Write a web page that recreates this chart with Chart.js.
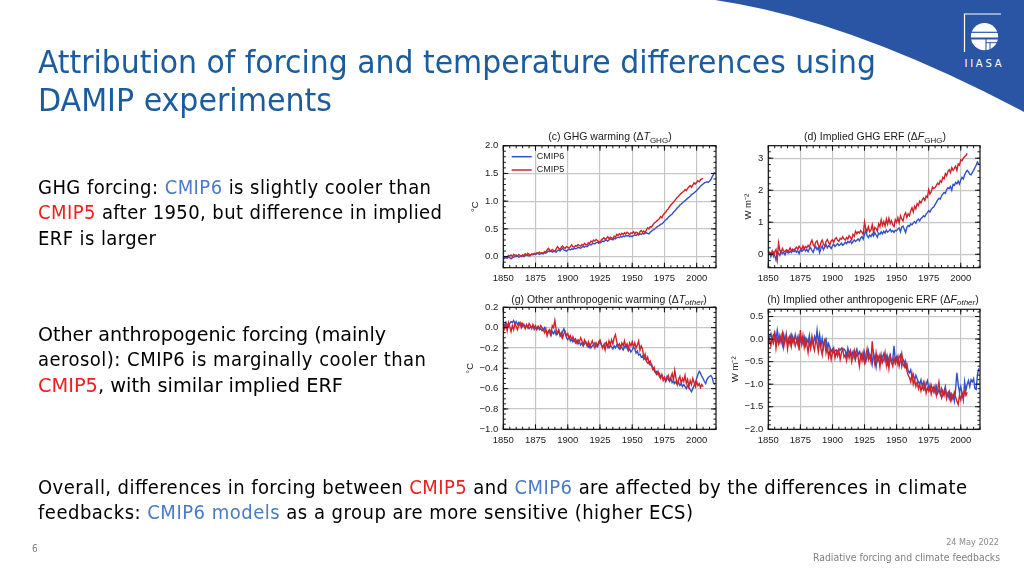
<!DOCTYPE html>
<html><head><meta charset="utf-8">
<script src="https://cdn.jsdelivr.net/npm/chart.js@4.4.1/dist/chart.umd.min.js"></script>
<style>
html,body{margin:0;padding:0;background:#fff;}
#slide{position:relative;width:1024px;height:576px;overflow:hidden;background:#fff;}
canvas{position:absolute;}
svg{position:absolute;left:0;top:0;}
.st{font-family:'DejaVu Sans Condensed','DejaVu Sans',sans-serif;font-stretch:condensed;}
</style></head><body>
<div id="slide">
<svg width="1024" height="576">
  <path d="M715,0 L1024,0 L1024,112 Q850,20 715,0 Z" fill="#2a55a5"/>
  <polyline points="1001,14 964.5,14 964.5,52" stroke="#fff" stroke-width="1.2" fill="none"/>
  <circle cx="984.5" cy="36.7" r="13.6" fill="#fff"/>
  <g stroke="#2a55a5" fill="none">
    <line x1="969" y1="32.3" x2="1000" y2="32.3" stroke-width="1.2"/>
    <line x1="969" y1="38.5" x2="1000" y2="38.5" stroke-width="2"/>
    <line x1="986" y1="38" x2="986" y2="52" stroke-width="1.1"/>
    <line x1="986" y1="42.7" x2="1000" y2="42.7" stroke-width="1"/>
    <line x1="990" y1="42.7" x2="990" y2="52" stroke-width="1"/>
  </g>
  <text x="964.5" y="66.7" fill="#fff" font-size="10" textLength="37" lengthAdjust="spacing" font-family="DejaVu Sans">IIASA</text>
</svg>
<canvas id="cC" width="260" height="158" style="left:461px;top:132px"></canvas>
<canvas id="cD" width="260" height="158" style="left:726px;top:132px"></canvas>
<canvas id="cG" width="260" height="158" style="left:461px;top:294px"></canvas>
<canvas id="cH" width="260" height="158" style="left:726px;top:294px"></canvas>
<svg width="1024" height="576" style="pointer-events:none">
  <g class="st">
    <text x="38" y="73.3" font-size="31.5" fill="#1a5c9e" textLength="838" lengthAdjust="spacingAndGlyphs">Attribution of forcing and temperature differences using</text>
    <text x="38" y="110.7" font-size="31.5" fill="#1a5c9e" textLength="294" lengthAdjust="spacingAndGlyphs">DAMIP experiments</text>
    <g font-size="20" fill="#000">
      <text x="38" y="194" textLength="393" lengthAdjust="spacing">GHG forcing: <tspan fill="#4a7bc8">CMIP6</tspan> is slightly cooler than</text>
      <text x="38" y="219.3" textLength="404" lengthAdjust="spacing"><tspan fill="#f01e1e">CMIP5</tspan> after 1950, but difference in implied</text>
      <text x="38" y="244.6" textLength="118" lengthAdjust="spacing">ERF is larger</text>
      <text x="38" y="341" textLength="348" lengthAdjust="spacingAndGlyphs">Other anthropogenic forcing (mainly</text>
      <text x="38" y="366.3" textLength="388" lengthAdjust="spacing">aerosol): CMIP6 is marginally cooler than</text>
      <text x="38" y="391.6" textLength="305" lengthAdjust="spacingAndGlyphs"><tspan fill="#f01e1e">CMIP5</tspan>, with similar implied ERF</text>
      <text x="38" y="493.5" textLength="929" lengthAdjust="spacing">Overall, differences in forcing between <tspan fill="#f01e1e">CMIP5</tspan> and <tspan fill="#4a7bc8">CMIP6</tspan> are affected by the differences in climate</text>
      <text x="38" y="518.8" textLength="655" lengthAdjust="spacing">feedbacks: <tspan fill="#4a7bc8">CMIP6 models</tspan> as a group are more sensitive (higher ECS)</text>
    </g>
    <text x="32" y="552" font-size="10" fill="#7f7f7f">6</text>
    <text x="999" y="545" font-size="9" fill="#8a8a8a" text-anchor="end">24 May 2022</text>
    <text x="1000" y="561" font-size="10.5" fill="#7f7f7f" text-anchor="end" textLength="187" lengthAdjust="spacingAndGlyphs">Radiative forcing and climate feedbacks</text>
  </g>
  <g font-family="'Liberation Sans',Arial,sans-serif" font-size="10.5" fill="#1a1a1a" text-anchor="middle">
    <text x="610" y="140">(c) GHG warming (Δ<tspan font-style="italic">T</tspan><tspan font-size="8" dy="2.5">GHG</tspan><tspan dy="-2.5">)</tspan></text>
    <text x="875" y="140">(d) Implied GHG ERF (Δ<tspan font-style="italic">F</tspan><tspan font-size="8" dy="2.5">GHG</tspan><tspan dy="-2.5">)</tspan></text>
    <text x="609" y="302.7">(g) Other anthropogenic warming (Δ<tspan font-style="italic">T</tspan><tspan font-size="8" dy="2.5" font-style="italic">other</tspan><tspan dy="-2.5">)</tspan></text>
    <text x="873" y="302.7">(h) Implied other anthropogenic ERF (Δ<tspan font-style="italic">F</tspan><tspan font-size="8" dy="2.5" font-style="italic">other</tspan><tspan dy="-2.5">)</tspan></text>
  </g>
</svg>
</div>
<script>
// ---------------- DATA ----------------
const START_YEAR = 1850;
const seriesNames = ['CMIP6', 'CMIP5'];
const xTicks = [1850, 1875, 1900, 1925, 1950, 1975, 2000];
const yTicksC = [0, 0.5, 1.0, 1.5, 2.0];
const yTicksD = [0, 1, 2, 3];
const yTicksG = [-1.0, -0.8, -0.6, -0.4, -0.2, 0.0, 0.2];
const yTicksH = [-2.0, -1.5, -1.0, -0.5, 0.0, 0.5];

// (c) GHG warming, degC
const ghgT_cmip6 = [
-0.04,-0.03,-0.02,-0.03,-0.01,-0.02,-0.04,-0.02,-0.01,0.00,
0.00,0.01,-0.01,0.00,0.02,0.01,0.00,0.02,0.03,0.02,
0.01,0.03,0.04,0.03,0.05,0.04,0.05,0.06,0.04,0.05,
0.06,0.05,0.07,0.06,0.08,0.10,0.09,0.11,0.08,0.09,
0.10,0.08,0.11,0.12,0.10,0.13,0.15,0.12,0.11,0.10,
0.12,0.13,0.12,0.14,0.13,0.15,0.14,0.15,0.17,0.16,
0.15,0.17,0.18,0.17,0.19,0.18,0.20,0.22,0.21,0.23,
0.24,0.23,0.25,0.26,0.24,0.27,0.26,0.28,0.27,0.29,
0.30,0.28,0.30,0.32,0.31,0.30,0.33,0.32,0.34,0.35,
0.34,0.36,0.35,0.37,0.36,0.38,0.37,0.38,0.36,0.37,
0.36,0.38,0.39,0.38,0.40,0.39,0.41,0.40,0.42,0.41,
0.42,0.43,0.42,0.41,0.44,0.46,0.48,0.49,0.51,0.53,
0.55,0.56,0.58,0.59,0.61,0.64,0.66,0.68,0.71,0.73,
0.75,0.77,0.80,0.82,0.85,0.88,0.90,0.93,0.95,0.97,
0.99,1.01,1.03,1.05,1.07,1.09,1.12,1.13,1.15,1.17,
1.19,1.22,1.24,1.27,1.29,1.31,1.33,1.34,1.35,1.34,
1.36,1.39,1.44,1.48,1.52];
const ghgT_cmip5 = [
-0.03,-0.01,0.00,-0.02,0.02,0.01,0.03,0.00,0.04,0.02,
0.03,0.01,0.04,0.02,0.00,0.03,0.02,0.05,0.03,0.06,
0.04,0.02,0.05,0.04,0.06,0.05,0.07,0.06,0.08,0.06,
0.07,0.06,0.09,0.08,0.12,0.15,0.12,0.10,0.13,0.11,
0.09,0.14,0.18,0.15,0.13,0.17,0.19,0.16,0.15,0.18,
0.17,0.15,0.18,0.21,0.18,0.17,0.20,0.19,0.22,0.20,
0.19,0.22,0.20,0.24,0.22,0.21,0.25,0.24,0.28,0.26,
0.30,0.28,0.31,0.29,0.27,0.25,0.30,0.32,0.34,0.31,
0.33,0.36,0.32,0.35,0.34,0.32,0.37,0.35,0.40,0.38,
0.41,0.39,0.42,0.40,0.43,0.41,0.44,0.42,0.40,0.43,
0.42,0.45,0.41,0.44,0.43,0.40,0.45,0.47,0.44,0.46,
0.43,0.48,0.52,0.50,0.54,0.53,0.57,0.60,0.62,0.64,
0.66,0.68,0.72,0.70,0.75,0.78,0.80,0.84,0.86,0.90,
0.93,0.96,0.98,1.01,1.04,1.07,1.09,1.12,1.14,1.16,
1.18,1.21,1.19,1.23,1.26,1.28,1.25,1.29,1.33,1.31,
1.34,1.37,1.35,1.39,1.40,1.41];

// (d) implied GHG ERF, W m-2
const ghgF_cmip6 = [
-0.02,0.05,-0.08,0.02,0.06,-0.05,-0.18,0.08,0.03,-0.04,
0.10,0.02,0.06,-0.02,0.08,0.12,0.04,0.09,0.05,0.11,
0.08,0.13,0.06,0.10,0.02,0.14,0.09,0.12,0.18,0.10,
0.15,0.08,0.17,0.20,0.12,0.06,0.18,0.24,0.15,0.21,
0.05,0.18,0.26,0.14,0.22,0.30,0.20,0.27,0.24,0.18,
0.26,0.31,0.24,0.29,0.33,0.27,0.30,0.35,0.28,0.32,
0.38,0.33,0.40,0.36,0.42,0.34,0.39,0.45,0.40,0.44,
0.48,0.42,0.50,0.55,0.47,0.62,0.75,0.58,0.52,0.60,
0.55,0.64,0.57,0.68,0.60,0.53,0.66,0.62,0.70,0.64,
0.72,0.66,0.75,0.69,0.73,0.78,0.70,0.74,0.68,0.75,
0.73,0.79,0.82,0.70,0.85,0.88,0.78,0.68,0.84,0.90,
0.87,0.95,0.92,0.98,1.02,0.97,1.06,1.10,1.04,1.12,
1.15,1.20,1.17,1.26,1.30,1.36,1.32,1.40,1.45,1.48,
1.55,1.62,1.70,1.75,1.72,1.82,1.88,1.93,1.90,2.02,
2.08,2.05,2.12,2.00,2.18,2.15,2.24,2.20,2.28,2.19,
2.32,2.40,2.35,2.48,2.56,2.62,2.58,2.50,2.48,2.55,
2.62,2.70,2.78,2.88,2.82];
const ghgF_cmip5 = [
0.02,0.06,0.00,0.10,-0.05,0.08,0.15,-0.15,0.35,0.12,
0.05,0.18,0.10,0.08,0.14,0.06,0.12,0.20,0.10,0.16,
0.12,0.18,0.22,0.15,0.25,0.20,0.14,0.26,0.18,0.24,
0.20,0.28,0.22,0.35,0.44,0.30,0.24,0.38,0.42,0.28,
0.20,0.36,0.44,0.32,0.25,0.40,0.46,0.36,0.30,0.42,
0.45,0.38,0.48,0.52,0.44,0.40,0.50,0.47,0.55,0.48,
0.44,0.52,0.47,0.58,0.53,0.46,0.62,0.56,0.72,0.64,
0.70,0.66,0.74,0.68,0.62,1.00,0.80,0.72,0.86,0.70,
0.76,0.92,0.68,0.84,0.80,0.72,0.95,0.86,1.08,0.90,
1.02,0.88,1.10,0.94,1.12,0.96,1.05,0.92,0.86,1.08,
1.00,1.14,0.98,1.20,1.10,1.04,1.22,1.30,1.15,1.26,
1.20,1.36,1.45,1.32,1.50,1.42,1.58,1.52,1.66,1.60,
1.70,1.76,1.68,1.82,1.78,2.02,1.88,1.95,2.10,2.05,
2.08,2.15,2.22,2.18,2.30,2.25,2.40,2.35,2.52,2.45,
2.58,2.64,2.55,2.70,2.62,2.68,2.75,2.62,2.82,2.78,
2.95,2.92,3.00,3.05,3.08,3.15];

// (g) other anthropogenic warming, degC
const othT_cmip6 = [
0.04,0.02,0.05,0.03,0.01,0.04,0.06,0.05,0.07,0.04,
0.06,0.03,0.05,0.02,0.04,0.01,0.03,0.00,0.02,0.01,
-0.01,0.01,0.00,0.02,-0.02,0.00,-0.01,0.01,-0.02,-0.01,
-0.03,-0.02,0.00,-0.04,-0.06,-0.03,-0.05,-0.08,-0.04,-0.06,
-0.03,-0.07,-0.05,-0.02,-0.06,-0.09,-0.04,-0.01,-0.05,-0.10,
-0.12,-0.09,-0.13,-0.11,-0.14,-0.12,-0.15,-0.13,-0.16,-0.14,
-0.17,-0.15,-0.18,-0.16,-0.14,-0.17,-0.19,-0.16,-0.20,-0.18,
-0.17,-0.15,-0.18,-0.19,-0.16,-0.14,-0.17,-0.19,-0.18,-0.15,
-0.16,-0.18,-0.20,-0.17,-0.19,-0.21,-0.18,-0.20,-0.17,-0.19,
-0.21,-0.18,-0.20,-0.22,-0.19,-0.17,-0.20,-0.23,-0.21,-0.24,
-0.22,-0.19,-0.21,-0.25,-0.23,-0.27,-0.26,-0.29,-0.28,-0.31,
-0.30,-0.33,-0.35,-0.34,-0.37,-0.36,-0.40,-0.42,-0.44,-0.43,
-0.46,-0.45,-0.48,-0.47,-0.50,-0.49,-0.52,-0.48,-0.51,-0.53,
-0.50,-0.54,-0.52,-0.55,-0.53,-0.56,-0.54,-0.57,-0.55,-0.58,
-0.56,-0.58,-0.60,-0.57,-0.59,-0.61,-0.63,-0.60,-0.57,-0.54,
-0.50,-0.46,-0.43,-0.45,-0.48,-0.50,-0.53,-0.55,-0.51,-0.49,
-0.48,-0.47,-0.49,-0.54,-0.56];
const othT_cmip5 = [
0.03,-0.01,0.04,-0.03,0.05,0.01,-0.04,0.02,-0.02,0.04,
0.01,-0.02,0.03,0.05,0.00,0.04,0.02,-0.01,0.03,0.00,
0.04,0.02,-0.01,0.03,0.00,0.02,-0.02,0.01,-0.01,0.02,
0.00,-0.02,-0.05,-0.01,-0.08,-0.04,-0.02,-0.06,0.02,0.00,
0.07,-0.02,-0.06,-0.03,-0.08,-0.05,-0.10,-0.06,-0.04,-0.08,
-0.06,-0.10,-0.08,-0.12,-0.09,-0.13,-0.11,-0.15,-0.12,-0.14,
-0.10,-0.13,-0.17,-0.12,-0.15,-0.18,-0.14,-0.19,-0.16,-0.13,
-0.17,-0.20,-0.15,-0.18,-0.14,-0.12,-0.16,-0.20,-0.17,-0.22,
-0.15,-0.19,-0.13,-0.17,-0.12,-0.16,-0.10,-0.07,-0.14,-0.18,
-0.16,-0.20,-0.15,-0.18,-0.13,-0.19,-0.16,-0.21,-0.15,-0.18,
-0.14,-0.19,-0.15,-0.20,-0.17,-0.13,-0.22,-0.18,-0.21,-0.30,
-0.26,-0.32,-0.29,-0.35,-0.33,-0.37,-0.41,-0.39,-0.44,-0.46,
-0.43,-0.48,-0.50,-0.46,-0.52,-0.49,-0.53,-0.50,-0.47,-0.52,
-0.49,-0.45,-0.52,-0.42,-0.50,-0.56,-0.51,-0.48,-0.55,-0.50,
-0.53,-0.47,-0.55,-0.51,-0.58,-0.52,-0.56,-0.50,-0.54,-0.58,
-0.53,-0.57,-0.55,-0.59,-0.56,-0.58];

// (h) implied other anthropogenic ERF, W m-2
const othF_cmip6 = [
-0.10,0.05,0.12,-0.05,0.08,0.15,-0.02,0.20,0.02,-0.08,
0.06,-0.12,0.10,-0.04,0.12,-0.10,0.00,0.08,-0.15,0.05,
-0.08,0.10,-0.02,-0.12,0.06,-0.05,0.02,-0.10,0.04,-0.14,
0.00,-0.08,0.08,-0.18,0.02,-0.10,0.05,-0.06,0.20,-0.08,
0.10,-0.15,0.02,-0.20,-0.05,0.00,-0.25,-0.10,-0.18,-0.28,
-0.22,-0.30,-0.26,-0.24,-0.28,-0.22,-0.25,-0.20,-0.24,-0.22,
-0.26,-0.38,-0.20,-0.32,-0.25,-0.36,-0.28,-0.42,-0.30,-0.22,
-0.35,-0.28,-0.40,-0.32,-0.45,-0.30,-0.50,-0.38,-0.25,-0.42,
-0.36,-0.55,-0.30,-0.44,-0.62,-0.38,-0.46,-0.35,-0.50,-0.40,
-0.32,-0.48,-0.38,-0.55,-0.42,-0.35,-0.52,-0.45,-0.15,-0.48,
-0.40,-0.55,-0.40,-0.35,-0.60,-0.45,-0.50,-0.62,-0.55,-0.70,
-0.75,-0.68,-0.85,-0.78,-0.92,-0.80,-0.88,-0.95,-1.00,-0.90,
-1.05,-0.95,-1.10,-1.00,-0.92,-1.08,-1.15,-1.02,-1.12,-1.06,
-1.18,-1.05,-1.20,-1.12,-1.22,-1.10,-1.25,-1.15,-1.05,-1.28,
-1.20,-1.32,-1.22,-1.35,-1.25,-1.38,-1.10,-0.75,-1.00,-1.18,
-1.05,-1.20,-1.35,-0.95,-1.15,-1.00,-0.92,-1.05,-0.90,-0.95,
-0.88,-1.10,-1.12,-0.80,-0.65];
const othF_cmip5 = [
-0.12,0.00,-0.15,0.05,-0.08,0.10,-0.20,0.02,-0.10,0.08,
-0.05,0.12,-0.18,-0.02,0.06,-0.22,0.00,-0.12,0.08,-0.06,
0.02,-0.15,-0.05,0.05,-0.25,0.20,-0.10,0.08,-0.18,0.00,
-0.12,-0.30,-0.05,-0.20,0.05,-0.15,-0.25,0.00,-0.10,-0.28,
-0.05,-0.20,-0.35,-0.10,-0.02,-0.30,-0.15,-0.40,-0.25,-0.45,
-0.30,-0.20,-0.42,-0.28,-0.38,-0.25,-0.45,-0.30,-0.22,-0.40,
-0.35,-0.48,-0.30,-0.42,-0.28,-0.50,-0.36,-0.25,-0.45,-0.32,
-0.40,-0.60,-0.35,-0.48,-0.30,-0.52,-0.40,-0.22,-0.45,-0.35,
-0.50,-0.05,-0.38,-0.55,-0.30,-0.48,-0.40,-0.62,-0.35,-0.52,
-0.45,-0.30,-0.58,-0.40,-0.65,-0.38,-0.50,-0.60,-0.42,-0.55,
-0.48,-0.38,-0.60,-0.45,-0.32,-0.55,-0.62,-0.50,-0.70,-0.80,
-0.85,-0.95,-0.78,-1.00,-0.90,-1.05,-0.95,-1.10,-1.00,-1.15,
-1.05,-1.12,-0.98,-1.20,-1.08,-1.15,-1.02,-1.22,-1.10,-1.18,
-1.05,-1.25,-1.12,-0.95,-1.20,-1.30,-1.15,-1.25,-1.10,-1.32,
-1.20,-1.15,-1.35,-1.22,-1.30,-1.18,-1.28,-1.38,-1.45,-1.25,
-1.35,-1.20,-1.30,-1.15,-1.25,-1.18];

// ---------------- CHARTS ----------------
Chart.defaults.font.family = "'Liberation Sans', Arial, Helvetica, sans-serif";
Chart.defaults.color = '#1a1a1a';
const BLUE = '#2f52c8', RED = '#d0222a';

const pts = arr => arr.map((v, i) => ({x: START_YEAR + i, y: v}));
const fmt = dec => v => {
  const n = Number(v);
  let s = dec ? Math.abs(n).toFixed(dec) : String(Math.abs(n));
  return n < 0 ? '\u2212' + s : s;
};

const framePlugin = {
  id: 'frame',
  afterDraw(chart, args, o) {
    const {ctx, chartArea: a} = chart;
    const xs = chart.scales.x, ys = chart.scales.y;
    ctx.save();
    ctx.strokeStyle = '#111';
    ctx.lineWidth = 1;
    ctx.beginPath();
    const xt = (v, len) => {
      const p = xs.getPixelForValue(v);
      ctx.moveTo(p, a.bottom); ctx.lineTo(p, a.bottom - len);
      ctx.moveTo(p, a.top); ctx.lineTo(p, a.top + len);
    };
    const yt = (v, len) => {
      const p = ys.getPixelForValue(v);
      ctx.moveTo(a.left, p); ctx.lineTo(a.left + len, p);
      ctx.moveTo(a.right, p); ctx.lineTo(a.right - len, p);
    };
    for (let k = Math.ceil(xs.min / o.xMinor - 1e-9); k * o.xMinor <= xs.max + 1e-9; k++) xt(k * o.xMinor, 2.5);
    for (let k = Math.ceil(ys.min / o.yMinor - 1e-9); k * o.yMinor <= ys.max + 1e-9; k++) yt(k * o.yMinor, 2.5);
    xTicks.forEach(v => xt(v, 5));
    o.yTicks.forEach(v => yt(v, 5));
    ctx.stroke();
    ctx.lineWidth = 1.2;
    ctx.strokeRect(a.left, a.top, a.width, a.height);
    if (o.legend) {
      chart.data.datasets.forEach((ds, i) => {
        const ly = a.top + 11 + i * 13.3;
        ctx.strokeStyle = ds.borderColor;
        ctx.lineWidth = 1.5;
        ctx.beginPath();
        ctx.moveTo(a.left + 8.4, ly); ctx.lineTo(a.left + 28.4, ly);
        ctx.stroke();
        ctx.fillStyle = '#1a1a1a';
        ctx.font = "9px 'Liberation Sans', Arial, sans-serif";
        ctx.textBaseline = 'middle';
        ctx.textAlign = 'left';
        ctx.fillText(ds.label, a.left + 33.4, ly);
      });
    }
    ctx.restore();
  }
};

function makeChart(id, d6, d5, cfg) {
  const canvas = document.getElementById(id);
  const cl = parseFloat(canvas.style.left), ct = parseFloat(canvas.style.top);
  const W = canvas.width, H = canvas.height;
  const a = cfg.area;
  const yW = a.left - cl, padT = a.top - ct, padR = cl + W - a.right, xH = ct + H - a.bottom;
  new Chart(canvas, {
    type: 'line',
    data: {datasets: [
      {label: seriesNames[0], data: pts(d6), borderColor: BLUE, borderWidth: 1.4, pointRadius: 0, order: 1},
      {label: seriesNames[1], data: pts(d5), borderColor: RED, borderWidth: 1.4, pointRadius: 0, order: 0}
    ]},
    options: {
      responsive: false, animation: false, devicePixelRatio: 1,
      layout: {padding: {left: 0, top: padT, right: padR, bottom: 0}},
      plugins: {legend: {display: false}, tooltip: {enabled: false},
        frame: {xMinor: 5, yMinor: cfg.yMinor, yTicks: cfg.yTicks, legend: !!cfg.legend}},
      scales: {
        x: {type: 'linear', min: 1850, max: 2015,
          afterBuildTicks: s => { s.ticks = xTicks.map(v => ({value: v})); },
          ticks: {autoSkip: false, maxRotation: 0, padding: 5, font: {size: 9.5}, callback: v => String(v)},
          grid: {color: '#c6c6c6', lineWidth: 1.2, drawTicks: false},
          border: {display: false},
          afterFit: s => { s.height = xH; }},
        y: {type: 'linear', min: cfg.min, max: cfg.max,
          afterBuildTicks: s => { s.ticks = cfg.yTicks.map(v => ({value: v})); },
          ticks: {autoSkip: false, padding: 5, font: {size: 9.5}, callback: fmt(cfg.dec)},
          grid: {color: '#c6c6c6', lineWidth: 1.2, drawTicks: false},
          border: {display: false},
          title: {display: true, text: cfg.ytitle, font: {size: 9.5}, padding: {top: cfg.tpad, bottom: 0}},
          afterFit: s => { s.width = yW; }}
      }
    },
    plugins: [framePlugin]
  });
}

makeChart('cC', ghgT_cmip6, ghgT_cmip5, {area: {left: 503.3, top: 145.7, right: 716, bottom: 267.7},
  min: -0.2, max: 2.0, yTicks: yTicksC, yMinor: 0.1, dec: 1, ytitle: '°C', tpad: 8.8, legend: true});
makeChart('cD', ghgF_cmip6, ghgF_cmip5, {area: {left: 768.3, top: 145.7, right: 980, bottom: 267.7},
  min: -0.42, max: 3.39, yTicks: yTicksD, yMinor: 0.2, dec: 0, ytitle: 'W m\u207B\u00B2', tpad: 16.3});
makeChart('cG', othT_cmip6, othT_cmip5, {area: {left: 503.3, top: 307.3, right: 716, bottom: 429.3},
  min: -1.0, max: 0.2, yTicks: yTicksG, yMinor: 0.05, dec: 1, ytitle: '°C', tpad: 3.3});
makeChart('cH', othF_cmip6, othF_cmip5, {area: {left: 768.3, top: 309.3, right: 980, bottom: 429.3},
  min: -2.0, max: 0.66, yTicks: yTicksH, yMinor: 0.1, dec: 1, ytitle: 'W m\u207B\u00B2', tpad: 3.3});
</script>
</body></html>
